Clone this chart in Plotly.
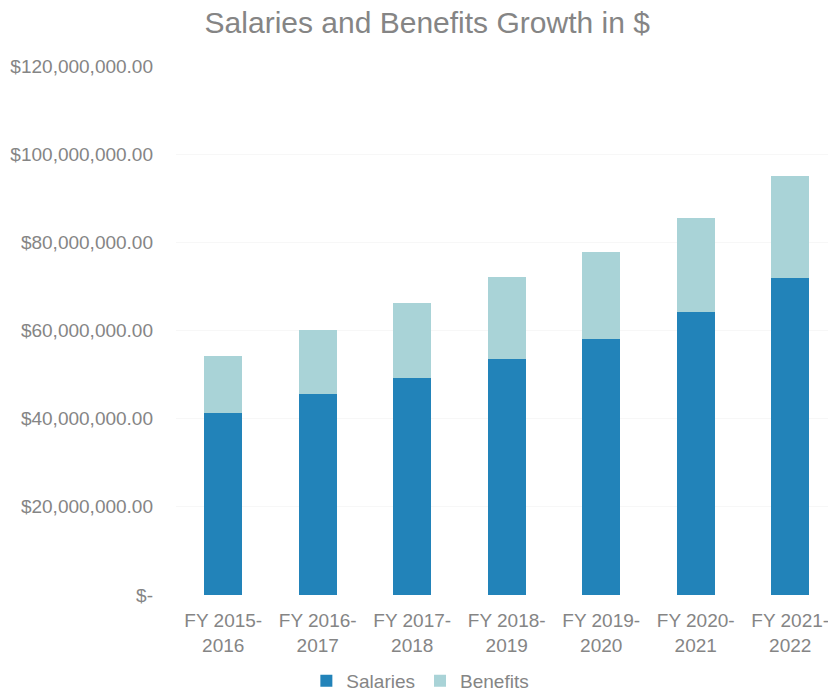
import plotly.graph_objects as go

# Fiscal years and spending (in millions of dollars)
fiscal_years = ["FY 2015-<br>2016", "FY 2016-<br>2017", "FY 2017-<br>2018", "FY 2018-<br>2019",
                "FY 2019-<br>2020", "FY 2020-<br>2021", "FY 2021-<br>2022"]
salaries_m = [41.2, 45.6, 49.2, 53.5, 58.1, 64.1, 71.8]
benefits_m = [13.0, 14.5, 17.0, 18.6, 19.6, 21.4, 23.3]

tick_values = [0, 20e6, 40e6, 60e6, 80e6, 100e6, 120e6]
tick_labels = ["$-", "$20,000,000.00", "$40,000,000.00", "$60,000,000.00",
               "$80,000,000.00", "$100,000,000.00", "$120,000,000.00"]

salaries = [v * 1e6 for v in salaries_m]
benefits = [v * 1e6 for v in benefits_m]

GRAY = "#858585"
FONT = "Liberation Sans, Arial, sans-serif"

fig = go.Figure()
fig.add_trace(go.Bar(x=fiscal_years, y=salaries, name="Salaries",
                     marker=dict(color="#2283b9", line=dict(width=0))))
fig.add_trace(go.Bar(x=fiscal_years, y=benefits, name="Benefits",
                     marker=dict(color="#a9d3d7", line=dict(width=0))))

fig.update_layout(
    barmode="stack",
    bargap=0.6,
    width=828, height=692,
    margin=dict(l=176, r=0, t=66, b=97),
    paper_bgcolor="white",
    plot_bgcolor="white",
    font=dict(family=FONT, size=19, color=GRAY),
    title=dict(text="Salaries and Benefits Growth in $",
               font=dict(family=FONT, size=30, color=GRAY),
               xref="container", x=0.516, xanchor="center",
               yref="container", y=0.968, yanchor="middle"),
    showlegend=True,
    legend=dict(orientation="h", xref="container", x=0.37, xanchor="left",
                yref="container", y=0.016, yanchor="middle",
                font=dict(family=FONT, size=19, color=GRAY),
                traceorder="normal"),
    xaxis=dict(range=[-0.5, 6.4], showgrid=False, showline=False, ticks="",
               automargin=False, ticklabelstandoff=12,
               tickfont=dict(size=19, color=GRAY)),
    yaxis=dict(range=[0, 120e6], tickvals=tick_values, ticktext=tick_labels,
               showgrid=True, gridcolor="#f7f7f7", gridwidth=1,
               zeroline=False, showline=False, ticks="", automargin=False,
               ticklabelstandoff=22, tickfont=dict(size=19, color=GRAY)),
)

fig.write_html("out.html")
